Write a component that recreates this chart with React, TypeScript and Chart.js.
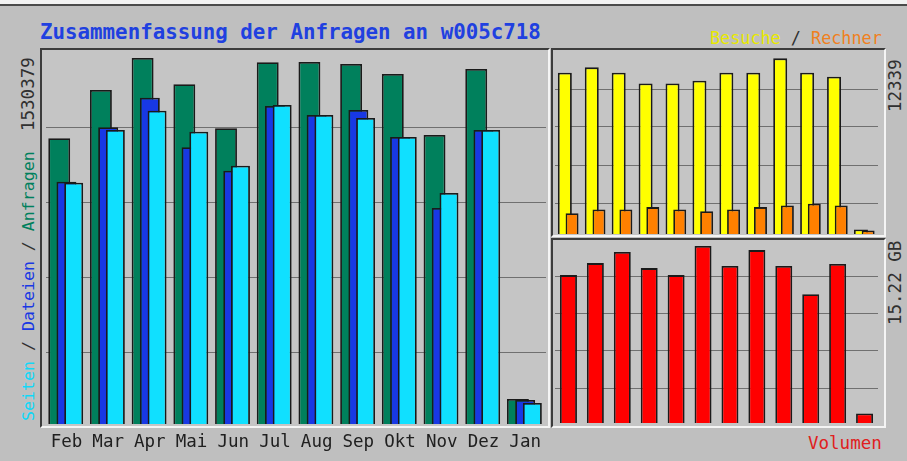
import React, { useEffect, useRef } from "react";
import { Chart, registerables } from "chart.js";

Chart.register(...registerables);

// ---------- data ----------
const months = ["Feb", "Mar", "Apr", "Mai", "Jun", "Jul", "Aug", "Sep", "Okt", "Nov", "Dez", "Jan"];
const anfragen = [1194500, 1396500, 1530379, 1420300, 1236300, 1512300, 1513500, 1505200, 1463400, 1208300, 1484300, 104500];
const dateien = [1013000, 1240500, 1364300, 1156900, 1059000, 1329600, 1291900, 1312800, 1200000, 903100, 1229200, 100300];
const seiten = [1008900, 1229200, 1310000, 1222100, 1080000, 1333700, 1291900, 1279400, 1200000, 965800, 1229200, 87800];
const besuche = [11325, 11705, 11325, 10578, 10578, 10762, 11325, 11325, 12339, 11325, 11043, 317];
const rechner = [1465, 1726, 1726, 1888, 1726, 1606, 1726, 1888, 2007, 2127, 2007, 246];
const volumenGB = [12.72, 13.75, 14.7, 13.32, 12.72, 15.22, 13.5, 14.87, 13.5, 11.08, 13.67, 0.82];

const titleText = "Zusammenfassung der Anfragen an w005c718";
const mainMaxLabel = "1530379";
const visitsMaxLabel = "12339";
const volumeMaxLabel = "15.22 GB";

// ---------- style ----------
const MONO = "'DejaVu Sans Mono', 'Liberation Mono', monospace";
const GRID = "#707070";
const OUTLINE = "#1a1a1a";

// draw datasets in index order (first dataset at the bottom)
const drawInOrder = {
  id: "drawInOrder",
  beforeDatasetsDraw(chart: any) {
    const metas = chart.getSortedVisibleDatasetMetas();
    const area = chart.chartArea;
    const ctx = chart.ctx;
    ctx.save();
    ctx.beginPath();
    ctx.rect(area.left, area.top, area.right - area.left, area.bottom - area.top);
    ctx.clip();
    metas.forEach((m: any) => m.controller.draw());
    ctx.restore();
    return false;
  },
};

function yScale(max: number, fractions: number[]) {
  return {
    min: 0,
    max,
    afterBuildTicks(scale: any) {
      scale.ticks = fractions.map((f) => ({ value: f * max }));
    },
    afterFit(scale: any) {
      scale.width = 0;
    },
    ticks: { display: false },
    grid: { color: GRID, lineWidth: 1, drawTicks: false },
    border: { display: false },
  };
}

function makeMain(canvas: HTMLCanvasElement) {
  const max = Math.max(...anfragen) * 1.019;
  return new Chart(canvas, {
    type: "bar",
    data: {
      labels: months,
      datasets: [
        { label: "Anfragen", data: anfragen, backgroundColor: "#00805C", borderColor: OUTLINE, borderWidth: 1.8, categoryPercentage: 0.52, barPercentage: 3.03 },
        { label: "Dateien", data: dateien, backgroundColor: "#1838E4", borderColor: OUTLINE, borderWidth: 1.8, categoryPercentage: 0.52, barPercentage: 2.76 },
        { label: "Seiten", data: seiten, backgroundColor: "#10E0FF", borderColor: OUTLINE, borderWidth: 1.8, categoryPercentage: 0.52, barPercentage: 2.62 },
      ],
    },
    options: {
      animation: false,
      responsive: false,
      layout: { padding: { left: 5.6, right: 6, top: 0, bottom: 0 } },
      plugins: { legend: { display: false }, tooltip: { enabled: false }, title: { display: false } },
      scales: {
        x: {
          grid: { display: false },
          border: { display: false },
          ticks: {
            autoSkip: false,
            maxRotation: 0,
            padding: 0,
            color: "#202020",
            font: { family: MONO, size: 17.5 },
          },
          afterFit(scale: any) {
            scale.height = 37;
          },
        },
        y: yScale(max, [0.193, 0.394, 0.595, 0.796]),
      },
    },
    plugins: [drawInOrder],
  } as any);
}

function makeVisits(canvas: HTMLCanvasElement) {
  const max = Math.max(...besuche) * 1.0417;
  return new Chart(canvas, {
    type: "bar",
    data: {
      labels: months,
      datasets: [
        { label: "Besuche", data: besuche, backgroundColor: "#FFFF00", borderColor: OUTLINE, borderWidth: 1.8, categoryPercentage: 0.535, barPercentage: 1.94 },
        { label: "Rechner", data: rechner, backgroundColor: "#FF8000", borderColor: OUTLINE, borderWidth: 1.8, categoryPercentage: 0.535, barPercentage: 1.8 },
      ],
    },
    options: {
      animation: false,
      responsive: false,
      layout: { padding: { left: 2, right: 6, top: 0, bottom: 0 } },
      plugins: { legend: { display: false }, tooltip: { enabled: false } },
      scales: {
        x: { display: false },
        y: yScale(max, [0.169, 0.377, 0.585, 0.792]),
      },
    },
    plugins: [drawInOrder],
  } as any);
}

function makeVolume(canvas: HTMLCanvasElement) {
  const max = Math.max(...volumenGB) * 1.034;
  return new Chart(canvas, {
    type: "bar",
    data: {
      labels: months,
      datasets: [
        { label: "Volumen", data: volumenGB, backgroundColor: "#FF0000", borderColor: OUTLINE, borderWidth: 1.8, categoryPercentage: 1, barPercentage: 0.63 },
      ],
    },
    options: {
      animation: false,
      responsive: false,
      layout: { padding: { left: 2, right: 6, top: 0, bottom: 0 } },
      plugins: { legend: { display: false }, tooltip: { enabled: false } },
      scales: {
        x: { display: false },
        y: yScale(max, [0.186, 0.394, 0.596, 0.803]),
      },
    },
    plugins: [drawInOrder],
  } as any);
}

const panelStyle = (left: number, top: number, width: number, height: number): React.CSSProperties => ({
  position: "absolute",
  left,
  top,
  width,
  height,
  boxSizing: "border-box",
  borderTop: "2px solid #3c3c3c",
  borderLeft: "2px solid #3c3c3c",
  borderBottom: "2px solid #f4f4f4",
  borderRight: "2px solid #f4f4f4",
  background: "#C5C5C5",
});

const vText = (left: number, bottom: number, size = 17.5): React.CSSProperties => ({
  position: "absolute",
  left,
  top: bottom,
  transform: "rotate(-90deg)",
  transformOrigin: "0 0",
  whiteSpace: "nowrap",
  fontFamily: MONO,
  fontSize: size,
  lineHeight: `${size}px`,
});

export default function App() {
  const mainRef = useRef<HTMLCanvasElement>(null);
  const visRef = useRef<HTMLCanvasElement>(null);
  const volRef = useRef<HTMLCanvasElement>(null);

  useEffect(() => {
    const charts = [makeMain(mainRef.current!), makeVisits(visRef.current!), makeVolume(volRef.current!)];
    return () => charts.forEach((c) => c.destroy());
  }, []);

  return (
    <div
      style={{
        position: "fixed",
        left: 0,
        top: 0,
        width: 907,
        height: 461,
        background: "#BFBFBF",
        overflow: "hidden",
        fontFamily: MONO,
      }}
    >
      <div style={{ position: "absolute", left: 0, top: 0, width: 907, height: 4, background: "#f2f2f2" }} />
      <div style={{ position: "absolute", left: 0, top: 4, width: 907, height: 2, background: "#4a4a4a" }} />

      <div style={panelStyle(40, 48, 510, 380)} />
      <div style={panelStyle(551, 48, 335, 189)} />
      <div style={panelStyle(551, 238, 335, 190)} />

      <canvas ref={mainRef} width={512} height={410} style={{ position: "absolute", left: 40, top: 51 }} />
      <canvas ref={visRef} width={331} height={183} style={{ position: "absolute", left: 553, top: 51 }} />
      <canvas ref={volRef} width={331} height={183} style={{ position: "absolute", left: 553, top: 240 }} />

      <div
        style={{
          position: "absolute",
          left: 40,
          top: 22.4,
          fontFamily: MONO,
          fontWeight: "bold",
          fontSize: 20.8,
          lineHeight: "20.8px",
          color: "#2040E0",
          whiteSpace: "nowrap",
        }}
      >
        {titleText}
      </div>

      <div style={{ ...vText(20, 131), color: "#303030" }}>{mainMaxLabel}</div>
      <div style={vText(21, 421, 16.6)}>
        <span style={{ color: "#10D8F8" }}>Seiten</span>
        <span style={{ color: "#303030" }}> / </span>
        <span style={{ color: "#1838E4" }}>Dateien</span>
        <span style={{ color: "#303030" }}> / </span>
        <span style={{ color: "#00805C" }}>Anfragen</span>
      </div>

      <div style={{ ...vText(887, 112), color: "#303030" }}>{visitsMaxLabel}</div>
      <div style={{ ...vText(887, 325), color: "#303030" }}>{volumeMaxLabel}</div>

      <div
        style={{
          position: "absolute",
          left: 710,
          top: 30,
          fontSize: 16.8,
          lineHeight: "16.8px",
          whiteSpace: "nowrap",
          fontFamily: MONO,
        }}
      >
        <span style={{ color: "#E8E800" }}>Besuche</span>
        <span style={{ color: "#303030" }}> / </span>
        <span style={{ color: "#F08020" }}>Rechner</span>
      </div>

      <div
        style={{
          position: "absolute",
          left: 808,
          top: 434.5,
          fontSize: 17.5,
          lineHeight: "17.5px",
          whiteSpace: "nowrap",
          fontFamily: MONO,
          color: "#E02020",
        }}
      >
        Volumen
      </div>
    </div>
  );
}
